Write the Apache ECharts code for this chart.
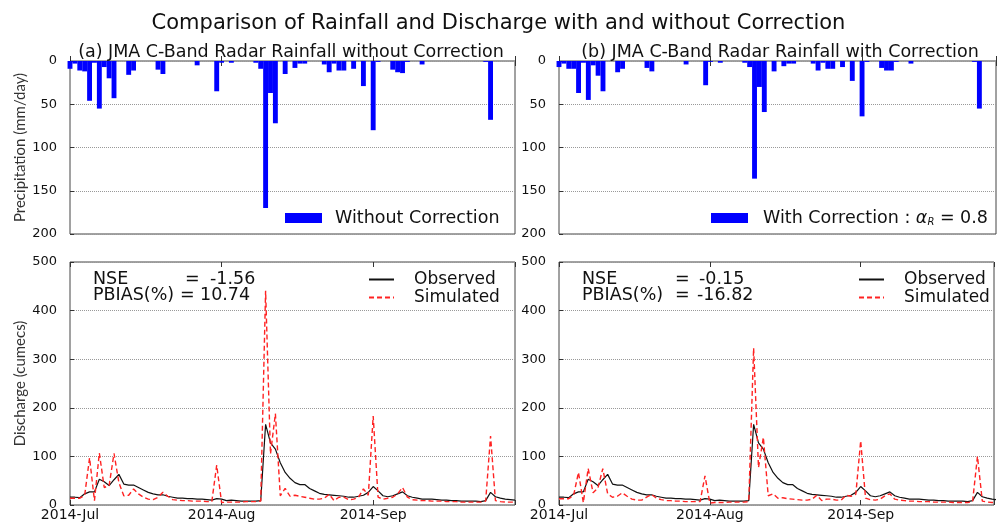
<!DOCTYPE html>
<html>
<head>
<meta charset="utf-8">
<title>Comparison of Rainfall and Discharge</title>
<script src="https://cdn.jsdelivr.net/npm/echarts@6/dist/echarts.min.js"></script>
<style>
html, body { margin: 0; padding: 0; background: #fff; }
#main { width: 997px; height: 522px; }
</style>
</head>
<body>
<div id="main"></div>
<script>
// daily values, 2014-07-01 .. 2014-09-30, index = day number
var rainNoCorr = [9,3,11,12,46,2,55,7,20,43, 0,0,16,11,0,0,0,0,10,15, 0,0,0,0,0,0,5,0,0,0, 35,2,0,2,0,0,0,0,2,9,
    170,37,72,0,15,0,8,3,3,0, 0,0,4,13,3,11,11,0,9,0, 29,0,80,1,0,0,10,13,14,1, 0,0,4,0,0,0,0,0,0,0, 0,0,0,0,0,1,68,0,0,0, 0,0];
var rainCorr = [7,3,9,9,37,2,45,5,17,35, 0,0,13,9,0,0,0,0,8,12, 0,0,0,0,0,0,4,0,0,0, 28,1,0,2,0,0,0,0,2,7,
    136,30,59,0,12,0,6,3,3,0, 0,0,3,11,2,9,9,0,7,0, 23,0,64,1,0,0,8,11,11,1, 0,0,3,0,0,0,0,0,0,0, 0,0,0,0,0,1,55,0,0,0, 0,0];
var observed = [16,16,15,23,27,27,53,48,40,52, 63,43,41,41,36,31,26,23,21,21, 18,16,14,14,13,13,12,12,11,10, 13,12,9,10,9,8,8,8,8,9,
    166,128,115,87,67,55,46,42,42,34, 29,24,22,21,20,19,18,16,16,18, 20,26,38,29,19,17,19,23,27,19, 16,14,12,12,12,11,10,10,9,9, 8,8,8,8,7,9,26,17,14,12, 11,10];
var simNoCorr = [14,14,14,20,97,9,107,36,40,106, 46,19,20,33,23,16,12,11,16,26, 18,11,10,9,9,8,8,8,7,7, 82,5,6,6,6,6,7,7,7,8,
    441,105,188,19,34,18,20,18,16,14, 12,12,14,22,9,16,16,11,12,16, 33,20,183,16,12,14,16,23,36,16, 11,10,9,9,8,8,8,7,7,7, 6,6,6,6,6,8,142,9,7,6, 6,6];
var simCorr = [13,13,13,20,67,5,75,25,35,75, 23,16,18,25,18,12,10,10,16,22, 14,11,9,9,8,8,7,7,7,7, 60,4,5,5,5,6,6,6,6,7,
    323,77,139,19,23,14,15,13,12,11, 10,10,12,20,9,12,12,10,10,20, 18,22,132,14,11,10,12,19,23,12, 10,9,8,8,7,7,7,6,6,6, 6,5,5,5,5,7,100,8,6,5, 5,5];

var tickDays = [0, 31, 62];
var tickLabels = ['2014-Jul', '2014-Aug', '2014-Sep'];
var rainTicks = [0, 50, 100, 150, 200];
var flowTicks = [0, 100, 200, 300, 400, 500];

var mainTitle = 'Comparison of Rainfall and Discharge with and without Correction';
var panelTitles = ['(a) JMA C-Band Radar Rainfall without Correction', '(b) JMA C-Band Radar Rainfall with Correction'];
var alphaR = '0.8';
var nseVals = ['-1.56', '-0.15'];
var pbiasVals = ['10.74', '-16.82'];

function pairs(arr) {
    return arr.map(function (v, i) { return [i, v]; });
}

var font = 'DejaVu Sans';
var panelLeft = [70, 559];
var panelMax = [91, 89.4];

// grids: 0 top-left, 1 top-right, 2 bottom-left, 3 bottom-right
var grids = [
    { left: 70, top: 61, width: 445, height: 173 },
    { left: 559, top: 61, width: 437, height: 173 },
    { left: 70, top: 262, width: 445, height: 244 },
    { left: 559, top: 262, width: 437, height: 244 }
].map(function (g) {
    g.show = true;
    g.borderColor = '#444';
    g.borderWidth = 1;
    g.containLabel = false;
    return g;
});

function makeX(g, pos, labels) {
    return {
        type: 'value', gridIndex: g, position: pos,
        min: 0, max: panelMax[g % 2], interval: 31,
        axisLine: { show: false },
        splitLine: { show: false },
        axisTick: { show: true, inside: true, length: 5, lineStyle: { color: '#333' } },
        axisLabel: {
            show: labels, margin: 3, color: '#111', fontSize: 14, fontFamily: font,
            formatter: function (v) {
                var k = tickDays.indexOf(Math.round(v));
                return k < 0 ? '' : tickLabels[k];
            }
        }
    };
}

function makeY(g, ticks, name) {
    return {
        type: 'value', gridIndex: g,
        min: ticks[0], max: ticks[ticks.length - 1], interval: ticks[1] - ticks[0],
        inverse: g < 2,
        axisLine: { show: false },
        axisTick: { show: true, inside: true, length: 4, lineStyle: { color: '#333' } },
        splitLine: { show: true, lineStyle: { type: 'dotted', color: '#999', width: 1 } },
        axisLabel: { margin: 13, color: '#111', fontSize: 13, fontFamily: font },
        name: name, nameLocation: 'middle', nameGap: 42,
        nameTextStyle: { fontFamily: 'Lato', fontSize: 15, color: '#333' }
    };
}

var xAxes = [];
for (var g = 0; g < 4; g++) xAxes.push(makeX(g, 'bottom', g >= 2));
for (var g = 0; g < 4; g++) xAxes.push(makeX(g, 'top', false));

var yAxes = [
    makeY(0, rainTicks, 'Precipitation (mm/day)'),
    makeY(1, rainTicks, ''),
    makeY(2, flowTicks, 'Discharge (cumecs)'),
    makeY(3, flowTicks, '')
];

var legends = [
    {
        data: ['Without Correction'], left: 285, top: 209, padding: 0,
        icon: 'rect', itemWidth: 37, itemHeight: 10,
        formatter: '{t|{name}}',
        textStyle: { rich: { t: { color: '#111', fontFamily: font, fontSize: 17.5, padding: [0, 0, 0, 8] } } }
    },
    {
        data: ['With Correction'], left: 711, top: 209, padding: 0,
        icon: 'rect', itemWidth: 37, itemHeight: 10,
        formatter: function () {
            return '{p|With Correction : }{a|α}{r|R}{t| = ' + alphaR + '}';
        },
        textStyle: { rich: {
            p: { color: '#111', fontFamily: font, fontSize: 17.5, padding: [0, 0, 0, 10] },
            t: { color: '#111', fontFamily: font, fontSize: 17.5 },
            a: { color: '#111', fontFamily: font, fontSize: 17.5, fontStyle: 'italic' },
            r: { color: '#111', fontFamily: font, fontSize: 10, fontStyle: 'italic', padding: [9, 0, 0, 0] }
        } }
    }
];
[368, 858].forEach(function (x) {
    legends.push({
        data: ['Observed', 'Simulated'],
        left: x, top: 271, padding: 0,
        orient: 'vertical', itemGap: 1, itemWidth: 25, itemHeight: 10,
        itemStyle: { opacity: 0 },
        formatter: '{t|{name}}',
        textStyle: { rich: { t: { color: '#111', fontFamily: font, fontSize: 17, padding: [0, 0, 0, 15] } } }
    });
});

// panel titles and statistics as text
var statFont = '17.5px "DejaVu Sans"';
var statPos = [
    { nseEq: 115, nseVal: 140, pbEq: 110, pbVal: 130 },
    { nseEq: 116, nseVal: 140, pbEq: 116, pbVal: 138 }
];
var graphics = [];
[0, 1].forEach(function (p) {
    var x0 = panelLeft[p];
    var s = statPos[p];
    graphics.push({
        type: 'text', x: x0 + 221, y: 52,
        style: { text: panelTitles[p], font: '17.5px "DejaVu Sans"', fill: '#111', align: 'center', verticalAlign: 'middle' }
    });
    var rows = [['NSE', nseVals[p], 279, s.nseEq, s.nseVal], ['PBIAS(%)', pbiasVals[p], 295, s.pbEq, s.pbVal]];
    rows.forEach(function (r) {
        graphics.push({ type: 'text', x: x0 + 23, y: r[2], style: { text: r[0], font: statFont, fill: '#111', verticalAlign: 'middle' } });
        graphics.push({ type: 'text', x: x0 + r[3], y: r[2], style: { text: '=', font: statFont, fill: '#111', verticalAlign: 'middle' } });
        graphics.push({ type: 'text', x: x0 + r[4], y: r[2], style: { text: r[1], font: statFont, fill: '#111', verticalAlign: 'middle' } });
    });
});

function flowSeries(name, data, g) {
    var isObs = name === 'Observed';
    return {
        name: name, type: 'line', xAxisIndex: g, yAxisIndex: g,
        data: pairs(data), showSymbol: false, symbol: 'none', clip: true,
        color: isObs ? '#111' : '#f22',
        lineStyle: isObs ? { color: '#111', width: 1.2 } : { color: '#f22', width: 1.4, type: [5, 3] }
    };
}

var myChart = echarts.init(document.getElementById('main'));

var option = {
    backgroundColor: '#fff',
    animation: false,
    title: {
        text: mainTitle, left: 'center', top: 8,
        textStyle: { fontFamily: font, fontSize: 21, fontWeight: 'normal', color: '#111' }
    },
    grid: grids,
    xAxis: xAxes,
    yAxis: yAxes,
    legend: legends,
    graphic: graphics,
    series: [
        { name: 'Without Correction', type: 'bar', xAxisIndex: 0, yAxisIndex: 0, data: pairs(rainNoCorr),
          barWidth: '100%', itemStyle: { color: '#0000ff' }, clip: true },
        { name: 'With Correction', type: 'bar', xAxisIndex: 1, yAxisIndex: 1, data: pairs(rainCorr),
          barWidth: '100%', itemStyle: { color: '#0000ff' }, clip: true },
        flowSeries('Observed', observed, 2),
        flowSeries('Simulated', simNoCorr, 2),
        flowSeries('Observed', observed, 3),
        flowSeries('Simulated', simCorr, 3)
    ]
};

myChart.setOption(option);
</script>
</body>
</html>
